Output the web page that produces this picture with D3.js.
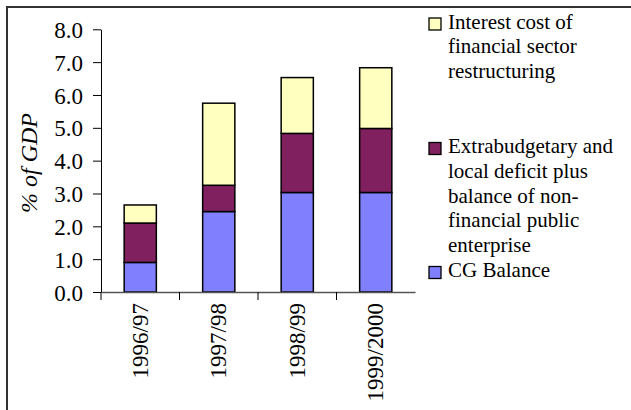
<!DOCTYPE html>
<html>
<head>
<meta charset="utf-8">
<script src="https://cdn.jsdelivr.net/npm/d3@7/dist/d3.min.js"></script>
<style>
  body { margin: 0; background: #fff; }
  svg text { font-family: "Liberation Serif", Tinos, "Times New Roman", Times, "DejaVu Serif", serif !important; fill: #000; }
</style>
</head>
<body>
<div id="viz"></div>
<script>
// values, % of GDP
const years = ["1996/97", "1997/98", "1998/99", "1999/2000"];
const cgBalance = [0.9, 2.45, 3.03, 3.03];
const extrabudgetary = [1.2, 0.8, 1.8, 1.95];
const interestCost = [0.55, 2.5, 1.7, 1.85];
const yTicks = [0, 1, 2, 3, 4, 5, 6, 7, 8];

const seriesNames = ["CG Balance", "Extrabudgetary", "Interest"];
const colors = ["#8080ff", "#80205f", "#ffffc0"];

const legendItems = [
  { lines: ["Interest cost of", "financial sector", "restructuring"], color: colors[2], y: 28.5 },
  { lines: ["Extrabudgetary and", "local deficit plus", "balance of non-", "financial public", "enterprise"], color: colors[1], y: 153 },
  { lines: ["CG Balance"], color: colors[0], y: 277 }
];

const width = 631, height = 410;
const serif = '"Liberation Serif", Tinos, "Times New Roman", Times, "DejaVu Serif", serif';

const svg = d3.select("#viz").append("svg")
  .attr("width", width)
  .attr("height", height);

// outer frame (runs off the right/bottom edge)
svg.append("rect")
  .attr("x", 7).attr("y", 7)
  .attr("width", 640).attr("height", 420)
  .attr("fill", "none")
  .attr("stroke", "#333")
  .attr("stroke-width", 2);

const rows = years.map((y, i) => ({
  year: y, "CG Balance": cgBalance[i], "Extrabudgetary": extrabudgetary[i], "Interest": interestCost[i]
}));

const stacked = d3.stack().keys(seriesNames)(rows);

const x = d3.scaleBand()
  .domain(years)
  .range([101, 415])
  .padding(0);

const y = d3.scaleLinear()
  .domain([0, 8])
  .range([292, 29.3]);

const barW = x.bandwidth() * 0.41;

svg.append("g")
  .selectAll("g")
  .data(stacked)
  .join("g")
  .attr("fill", (d, i) => colors[i])
  .selectAll("rect")
  .data(d => d)
  .join("rect")
  .attr("x", d => x(d.data.year) + (x.bandwidth() - barW) / 2)
  .attr("y", d => y(d[1]))
  .attr("width", barW)
  .attr("height", d => y(d[0]) - y(d[1]))
  .attr("stroke", "#000")
  .attr("stroke-width", 1.5);

// y axis
const yAxis = svg.append("g")
  .attr("transform", "translate(101,0)")
  .call(d3.axisLeft(y).tickValues(yTicks).tickFormat(d3.format(".1f")).tickSize(8).tickSizeOuter(0).tickPadding(10))
  .attr("font-family", serif);
yAxis.select(".domain").attr("stroke", "#000");
yAxis.selectAll("text").style("font-size", "23px").attr("dy", "0.35em");

// x axis
const xAxis = svg.append("g")
  .attr("transform", `translate(0,${y(0)})`)
  .call(d3.axisBottom(x).tickSize(0).tickSizeOuter(0).tickPadding(0))
  .attr("font-family", serif);
xAxis.select(".domain").attr("stroke", "#555").attr("stroke-width", 1.3);
xAxis.selectAll(".tick line").remove();
xAxis.selectAll("text")
  .style("font-size", "23px")
  .attr("text-anchor", "end")
  .attr("transform", "rotate(-90)")
  .attr("x", -11)
  .attr("y", 0)
  .attr("dy", "0.33em");

// category boundary ticks
svg.append("g")
  .selectAll("line")
  .data(years)
  .join("line")
  .attr("x1", d => x(d)).attr("x2", d => x(d))
  .attr("y1", y(0)).attr("y2", y(0) + 8)
  .attr("stroke", "#000");

// y title
svg.append("text")
  .attr("transform", `translate(29,${163}) rotate(-90)`)
  .attr("text-anchor", "middle")
  .attr("dy", "0.35em")
  .style("font-size", "24px")
  .style("font-style", "italic")
  .text("% of GDP");

// legend
const leg = svg.append("g");
legendItems.forEach(item => {
  leg.append("rect")
    .attr("x", 429).attr("y", item.y - 10.5)
    .attr("width", 12).attr("height", 12)
    .attr("fill", item.color)
    .attr("stroke", "#000")
    .attr("stroke-width", 1.3);
  const t = leg.append("text")
    .attr("x", 448)
    .attr("y", item.y)
    .style("font-size", "21px");
  item.lines.forEach((l, i) => {
    t.append("tspan").attr("x", 448).attr("dy", i === 0 ? 0 : 24.8).text(l);
  });
});
</script>
</body>
</html>
